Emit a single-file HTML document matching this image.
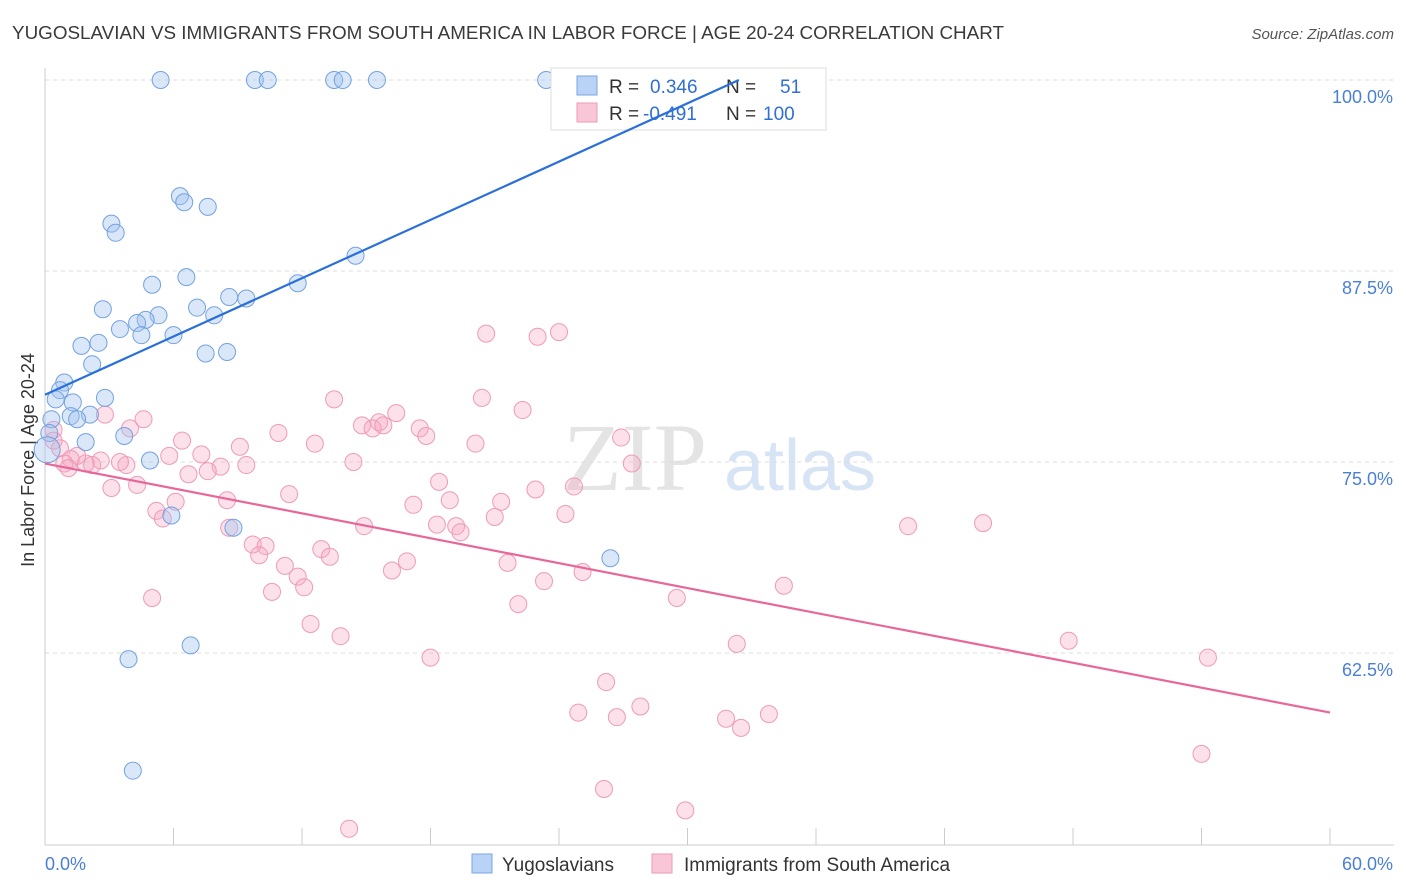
<!DOCTYPE html>
<html><head><meta charset="utf-8">
<style>
body{margin:0;background:#fff;font-family:"Liberation Sans",sans-serif;}
svg{display:block}
</style></head>
<body>
<svg id="chart" width="1406" height="892">
<text x="12" y="39" font-size="18" fill="#3a3a3a" textLength="992" lengthAdjust="spacingAndGlyphs">YUGOSLAVIAN VS IMMIGRANTS FROM SOUTH AMERICA IN LABOR FORCE | AGE 20-24 CORRELATION CHART</text>
<text x="1394" y="39" font-size="15" fill="#555" text-anchor="end" font-style="italic">Source: ZipAtlas.com</text>
<text x="34" y="460" font-size="18" fill="#333" text-anchor="middle" transform="rotate(-90 34 460)">In Labor Force | Age 20-24</text>
<g>
<text x="635" y="490" font-size="96" fill="#e4e4e4" font-family="Liberation Serif,serif" text-anchor="middle">ZIP</text>
<text x="800" y="490" font-size="72" fill="#d6e4f5" text-anchor="middle">atlas</text>
</g>
<g id="grid"></g><g id="axes"></g><g id="pts"></g>
<g>
<rect x="551" y="68" width="275" height="62" fill="#fff" stroke="#ddd"/>
<rect x="577" y="76" width="20" height="19" fill="#b8d3f5" stroke="#7aa6e0"/>
<text x="609" y="93" font-size="19" fill="#333">R = </text><text x="650" y="93" font-size="19" fill="#2f6fd6">0.346</text>
<text x="726" y="93" font-size="19" fill="#333">N = </text><text x="780" y="93" font-size="19" fill="#2f6fd6">51</text>
<rect x="577" y="103" width="20" height="19" fill="#f8c6d6" stroke="#ee9ab8"/>
<text x="609" y="120" font-size="19" fill="#333">R = </text><text x="643" y="120" font-size="19" fill="#2f6fd6">-0.491</text>
<text x="726" y="120" font-size="19" fill="#333">N = </text><text x="763" y="120" font-size="19" fill="#2f6fd6">100</text>
</g>
<g id="lines"></g>
<g>
<rect x="472" y="854" width="20" height="19" fill="#b8d3f5" stroke="#7aa6e0"/>
<text x="502" y="871" font-size="19" fill="#333">Yugoslavians</text>
<rect x="652" y="854" width="20" height="19" fill="#f8c6d6" stroke="#ee9ab8"/>
<text x="684" y="871" font-size="19" fill="#333">Immigrants from South America</text>
</g>
</svg>
<script>
const yTicks=[100,87.5,75,62.5];
const yTickLabels=["100.0%","87.5%","75.0%","62.5%"];
const xTicks=[0,6,12,18,24,30,36,42,48,54,60];
const blueX=[5.4,9.8,10.4,13.5,13.9,15.5,23.4,6.3,6.5,7.6,3.1,3.3,14.5,6.6,5.0,11.8,8.6,9.4,2.7,7.1,5.3,4.7,4.3,3.5,7.9,4.5,6.0,1.7,2.5,7.5,8.5,2.2,0.9,0.7,0.5,1.3,2.8,1.2,2.1,1.5,0.3,0.2,1.9,3.7,4.9,5.9,8.8,26.4,6.8,3.9,4.1,0.1];
const blueY=[100,100,100,100,100,100,100,92.4,92,91.7,90.6,90,88.5,87.1,86.6,86.7,85.8,85.7,85,85.1,84.6,84.3,84.1,83.7,84.6,83.3,83.3,82.6,82.8,82.1,82.2,81.4,80.2,79.7,79.1,78.9,79.2,78,78.1,77.8,77.8,76.9,76.3,76.7,75.1,71.5,70.7,68.7,63,62.1,54.8,75.8];
const pinkX=[20.6,23,24,20.4,13.5,22.3,16.4,15.6,14.8,15.3,15.8,17.5,17.8,4.6,2.8,3.97,10.9,20.1,26.9,12.6,6.4,9.1,7.3,5.8,14.4,27.4,9.4,8.2,7.6,6.7,3.8,3.5,2.6,2.2,1.9,1.5,1.2,0.9,0.7,0.4,0.4,1.1,4.3,3.1,11.4,6.1,8.5,18.4,17.2,18.9,21.3,22.9,24.7,24.3,21,5.2,5.5,8.6,14.9,18.3,19.2,19.4,9.7,10.3,12.9,13.3,10.0,16.9,16.2,21.6,25.1,11.2,11.8,12.1,10.6,23.3,22.1,29.5,34.5,12.4,13.8,5.0,40.3,43.8,32.3,18,47.8,54.3,26.2,27.8,26.7,24.9,31.8,33.8,32.5,54,26.1,29.9,14.2];
const pinkY=[83.4,83.2,83.5,79.2,79.1,78.4,78.2,77.6,77.4,77.2,77.4,77.2,76.7,77.8,78.1,77.2,76.9,76.2,76.6,76.2,76.4,76,75.5,75.4,75,74.9,74.8,74.7,74.4,74.2,74.8,75,75.1,74.8,74.9,75.4,75.2,74.9,75.9,77.1,76.4,74.6,73.5,73.3,72.9,72.4,72.5,73.7,72.2,72.5,72.4,73.2,73.4,71.6,71.4,71.8,71.3,70.7,70.8,70.9,70.8,70.4,69.6,69.5,69.3,68.8,68.9,68.5,67.9,68.4,67.8,68.2,67.5,66.8,66.5,67.2,65.7,66.1,66.9,64.4,63.6,66.1,70.8,71,63.1,62.2,63.3,62.2,60.6,59,58.3,58.6,58.2,58.5,57.6,55.9,53.6,52.2,51.0];
const blueLine=[0,79.4,32.4,100];
const pinkLine=[0,74.9,60,58.6];
const X0=45,X1=1330,Y100=80,PXPER=191/12.5;
const sx=v=>X0+(X1-X0)*v/60, sy=v=>Y100+(100-v)*PXPER;
const NS="http://www.w3.org/2000/svg";
function mk(tag,attrs,parent){const e=document.createElementNS(NS,tag);for(const k in attrs)e.setAttribute(k,attrs[k]);document.getElementById(parent).appendChild(e);return e;}
yTicks.forEach((t,i)=>{
 const g=mk('line',{x1:X0,x2:1394,y1:sy(t),y2:sy(t),stroke:'#ddd','stroke-dasharray':'4,4'},'grid');
 
 
 const tx=mk('text',{x:1393,y:sy(t)+23,'font-size':18,fill:'#4a7fd6','text-anchor':'end'},'axes');
 tx.textContent=yTickLabels[i];
 
 
});
const ax=mk('line',{x1:X0,x2:1394,y1:845,y2:845,stroke:'#ccc'},'axes');


const ay=mk('line',{x1:X0,x2:X0,y1:68,y2:845,stroke:'#ccc'},'axes');


xTicks.forEach(t=>{
 const l=mk('line',{x1:sx(t),x2:sx(t),y1:828,y2:845,stroke:'#ccc'},'axes');
 
 
});
const xl0=mk('text',{x:45,y:870,'font-size':18,fill:'#4a7fd6'},'axes');xl0.textContent='0.0%';


const xl1=mk('text',{x:1393,y:870,'font-size':18,fill:'#4a7fd6','text-anchor':'end'},'axes');xl1.textContent='60.0%';


pinkX.forEach((x,i)=>{
 const c=mk('circle',{cx:sx(x),cy:sy(pinkY[i]),r:8.5,fill:'rgba(245,170,195,0.35)',stroke:'#ef9ab7','stroke-width':1},'pts');
 
 
});
blueX.forEach((x,i)=>{
 const big=i===blueX.length-1;
 const c=mk('circle',{cx:sx(x),cy:sy(blueY[i]),r:big?13:8.5,fill:'rgba(160,195,240,0.4)',stroke:'#73a2e0','stroke-width':1},'pts');
 
 
});
const bl=mk('line',{x1:sx(blueLine[0]),y1:sy(blueLine[1]),x2:sx(blueLine[2]),y2:sy(blueLine[3]),stroke:'#2a70d8','stroke-width':2.2},'lines');


const pl=mk('line',{x1:sx(pinkLine[0]),y1:sy(pinkLine[1]),x2:sx(pinkLine[2]),y2:sy(pinkLine[3]),stroke:'#e8679a','stroke-width':2.2},'lines');


</script>
</body></html>
